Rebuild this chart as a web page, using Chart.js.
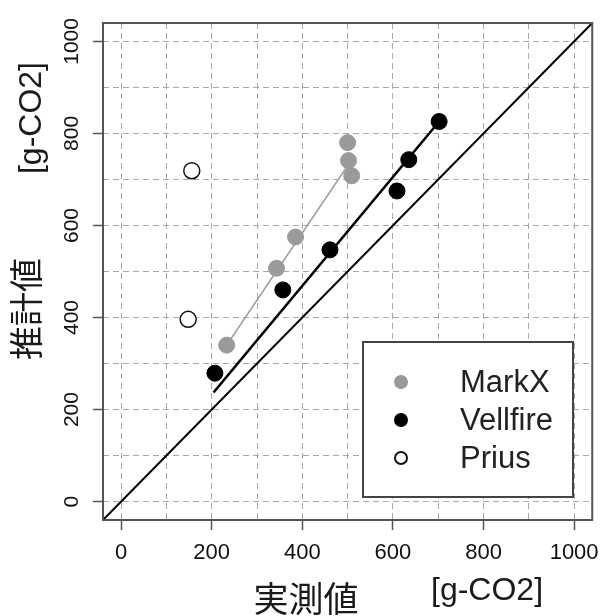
<!DOCTYPE html>
<html lang="ja">
<head>
<meta charset="UTF-8">
<title>実測値と推計値</title>
<script src="https://cdn.jsdelivr.net/npm/chart.js"></script>
<style>
  body { margin: 0; background: #fff; }
  #wrap { width: 609px; height: 616px; position: relative; }
</style>
</head>
<body>
<div id="wrap"><canvas id="chart"></canvas></div>
<script>
// axis range (R style, 4% past 0..1000)
const axisMin = -40;
const axisMax = 1040;
const gridValues = [0, 100, 200, 300, 400, 500, 600, 700, 800, 900, 1000];
const tickLabels = [0, 200, 400, 600, 800, 1000];

// measured (x) vs estimated (y), g-CO2
const markxX = [233, 343, 385, 500, 502, 509];
const markxY = [340, 507, 575, 780, 741, 708];
const vellfireX = [207, 357, 461, 609, 635, 702];
const vellfireY = [279, 460, 547, 675, 743, 826];
const priusX = [148, 156];
const priusY = [396, 719];

// fitted lines
const markxFitX = [233, 500];
const markxFitY = [340, 730];
const vellfireFitX = [204, 702];
const vellfireFitY = [237, 826];

const sans = '"Liberation Sans", Arial, sans-serif';
const cjk = '"Noto Sans CJK JP", sans-serif';

function toPoints(xs, ys) {
    return xs.map((x, i) => ({ x: x, y: ys[i] }));
}

const pointSets = [
    { label: 'MarkX', data: toPoints(markxX, markxY), backgroundColor: '#9a9a9a', borderColor: '#9a9a9a', borderWidth: 1 },
    { label: 'Vellfire', data: toPoints(vellfireX, vellfireY), backgroundColor: '#000', borderColor: '#000', borderWidth: 1 },
    { label: 'Prius', data: toPoints(priusX, priusY), backgroundColor: '#fff', borderColor: '#111', borderWidth: 1.5 }
];
pointSets.forEach(d => { d.pointRadius = 8; d.showLine = false; d.isPoints = true; });

const lineSets = [
    { label: 'MarkX fit', data: toPoints(markxFitX, markxFitY), borderColor: '#999', borderWidth: 1.6 },
    { label: 'Vellfire fit', data: toPoints(vellfireFitX, vellfireFitY), borderColor: '#000', borderWidth: 2.6 },
    { label: '1:1', data: toPoints([axisMin, axisMax], [axisMin, axisMax]), borderColor: '#000', borderWidth: 2 }
];
lineSets.forEach(d => { d.showLine = true; d.pointRadius = 0; d.fill = false; });

// titles, plot frame and legend
const decorations = {
    id: 'decorations',
    afterDraw(chart) {
        const ctx = chart.ctx;
        const a = chart.chartArea;
        ctx.save();
        ctx.strokeStyle = '#555';
        ctx.lineWidth = 2;
        ctx.strokeRect(a.left, a.top, a.right - a.left, a.bottom - a.top);

        ctx.fillStyle = '#1a1a1a';
        ctx.textAlign = 'center';
        ctx.textBaseline = 'middle';
        ctx.font = '35px ' + cjk;
        ctx.fillText('実測値', 306, 599);
        ctx.font = '32px ' + sans;
        ctx.fillText('[g-CO2]', 487, 591);

        ctx.save();
        ctx.translate(26, 309);
        ctx.rotate(-Math.PI / 2);
        ctx.font = '34px ' + cjk;
        ctx.fillText('推計値', 0, 0);
        ctx.restore();
        ctx.save();
        ctx.translate(32, 118);
        ctx.rotate(-Math.PI / 2);
        ctx.font = '32px ' + sans;
        ctx.fillText('[g-CO2]', 0, 0);
        ctx.restore();

        // legend
        const lx = 363, ly = 342, lw = 210, lh = 155;
        ctx.fillStyle = '#fff';
        ctx.fillRect(lx, ly, lw, lh);
        ctx.strokeStyle = '#444';
        ctx.lineWidth = 2;
        ctx.strokeRect(lx, ly, lw, lh);
        const rows = chart.data.datasets.filter(d => d.isPoints);
        rows.forEach((d, i) => {
            const y = 382 + i * 38;
            ctx.beginPath();
            ctx.arc(401, y, 6, 0, Math.PI * 2);
            ctx.fillStyle = d.backgroundColor;
            ctx.fill();
            ctx.lineWidth = 2;
            ctx.strokeStyle = d.borderColor;
            ctx.stroke();
            ctx.fillStyle = '#222';
            ctx.textAlign = 'left';
            ctx.font = '31px ' + sans;
            ctx.fillText(d.label, 460, y + 1);
        });
        ctx.restore();
    }
};

function axisOptions(isY) {
    return {
        type: 'linear',
        min: axisMin,
        max: axisMax,
        afterBuildTicks: scale => { scale.ticks = gridValues.map(v => ({ value: v })); },
        afterFit: scale => {
            if (isY) scale.width = 103;
            else scale.height = 96;
        },
        border: { display: false, dash: [6, 4] },
        grid: {
            color: '#a8a8a8',
            lineWidth: 1,
            tickLength: 10,
            tickBorderDash: [],
            tickWidth: 1.5,
            tickColor: c => tickLabels.includes(c.tick.value) ? '#555' : 'rgba(0,0,0,0)'
        },
        ticks: {
            autoSkip: false,
            color: '#111',
            font: { family: sans, size: isY ? 21 : 22 },
            padding: isY ? -3 : 10,
            minRotation: isY ? 90 : 0,
            maxRotation: isY ? 90 : 0,
            crossAlign: isY ? 'center' : 'near',
            callback: v => tickLabels.includes(v) ? String(v) : ''
        }
    };
}

new Chart(document.getElementById('chart'), {
    type: 'scatter',
    data: { datasets: pointSets.concat(lineSets) },
    options: {
        responsive: true,
        maintainAspectRatio: false,
        animation: false,
        events: [],
        layout: { padding: { left: 0, top: 23, right: 11, bottom: 0 } },
        plugins: { legend: { display: false }, tooltip: { enabled: false } },
        scales: { x: axisOptions(false), y: axisOptions(true) }
    },
    plugins: [decorations]
});
</script>
</body>
</html>
